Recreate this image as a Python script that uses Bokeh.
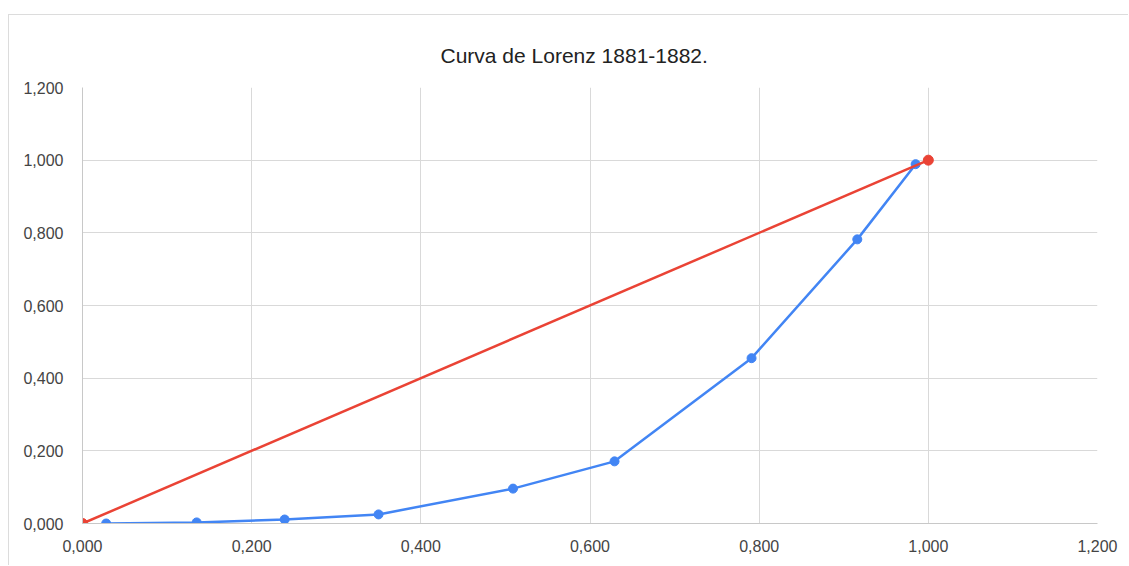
from bokeh.plotting import figure
from bokeh.embed import file_html
from bokeh.resources import INLINE
from bokeh.models import CustomJSTickFormatter, FixedTicker, Range1d

title_text = "Curva de Lorenz 1881-1882."

# Lorenz curve (blue)
lorenz_x = [0.028, 0.135, 0.239, 0.350, 0.509, 0.629, 0.791, 0.916, 0.985]
lorenz_y = [0.000, 0.003, 0.011, 0.025, 0.096, 0.171, 0.455, 0.782, 0.989]

# Equality line (red)
equal_x = [0.0, 1.0]
equal_y = [0.0, 1.0]

ticks = [0.0, 0.2, 0.4, 0.6, 0.8, 1.0, 1.2]

BLUE = "#4285f4"
RED = "#ea4335"
FONT = "Liberation Sans"

p = figure(width=1120, height=551, output_backend="svg", toolbar_location=None,
           x_range=Range1d(0, 1.2), y_range=Range1d(0, 1.2),
           min_border_left=73, min_border_right=32, min_border_top=72, min_border_bottom=43)
p.margin = (14, 0, 0, 8)

p.title.text = title_text
p.title.align = "left"
p.title.offset = 358
p.title.text_font = FONT
p.title.text_font_size = "21px"
p.title.text_font_style = "normal"
p.title.text_color = "#222222"
p.title.standoff = 41

fmt = CustomJSTickFormatter(code="return tick.toFixed(3).replace('.', ',');")
for ax in (p.xaxis, p.yaxis):
    ax.ticker = FixedTicker(ticks=ticks)
    ax.formatter = fmt
    ax.major_tick_line_color = None
    ax.minor_tick_line_color = None
    ax.major_tick_out = 0
    ax.major_tick_in = 0
    ax.axis_line_color = "#c8c8c8"
    ax.major_label_text_font = FONT
    ax.major_label_text_font_size = "16px"
    ax.major_label_text_color = "#444444"
p.yaxis.major_label_standoff = 19
p.xaxis.major_label_standoff = 16

p.xgrid.grid_line_color = "#d9d9d9"
p.ygrid.grid_line_color = "#d9d9d9"
p.outline_line_color = None
p.background_fill_color = "white"
p.border_fill_color = "white"

p.line(lorenz_x, lorenz_y, line_color=BLUE, line_width=2.5)
p.scatter(lorenz_x, lorenz_y, size=9, fill_color=BLUE, line_color=BLUE)

p.line(equal_x, equal_y, line_color=RED, line_width=2.5)
p.scatter(equal_x, equal_y, size=10, fill_color=RED, line_color=RED)

p.styles = {"border-top": "1px solid #dcdcdc", "border-left": "1px solid #dcdcdc"}

open("out.html", "w").write(file_html(p, INLINE))
